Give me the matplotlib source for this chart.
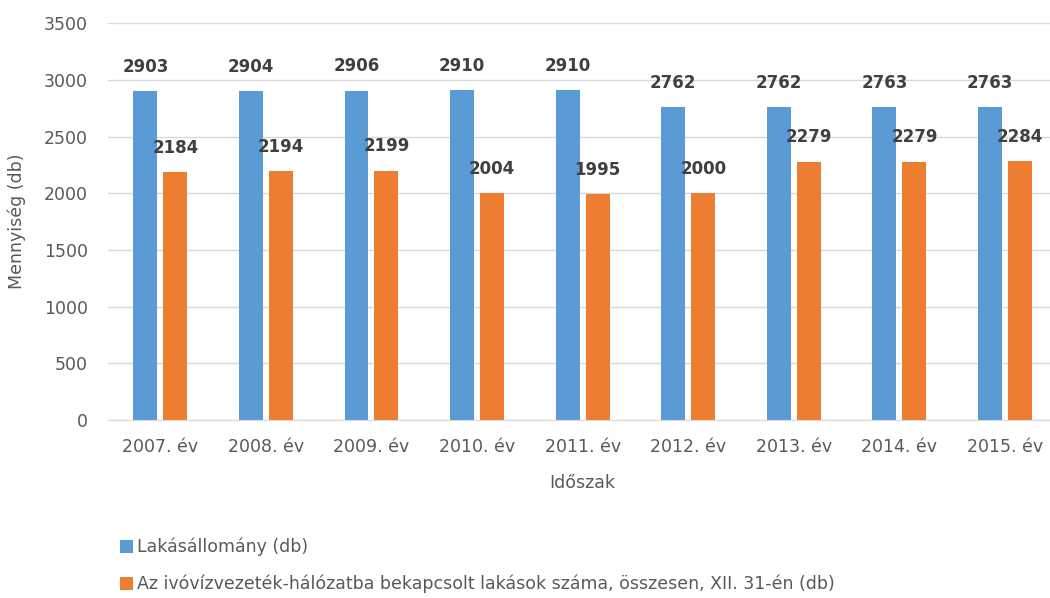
import matplotlib
matplotlib.use('Agg')
import matplotlib.pyplot as plt
import numpy as np

years = ['2007. év', '2008. év', '2009. év', '2010. év', '2011. év',
         '2012. év', '2013. év', '2014. év', '2015. év']
lakasallomany = [2903, 2904, 2906, 2910, 2910, 2762, 2762, 2763, 2763]
bekapcsolt = [2184, 2194, 2199, 2004, 1995, 2000, 2279, 2279, 2284]

series_names = ['Lakásállomány (db)',
                'Az ivóvízvezeték-hálózatba bekapcsolt lakások száma, összesen, XII. 31-én (db)']
colors = ['#5B9BD5', '#ED7D31']
text_gray = '#595959'

plt.rcParams['font.family'] = ['DejaVu Sans']

fig = plt.figure(figsize=(10.5, 5.98), dpi=100)
ax = fig.add_axes([0.1024, 0.298, 0.905, 0.663])

x = np.arange(len(years))
w = 0.227
off = 0.142
b1 = ax.bar(x - off, lakasallomany, w, color=colors[0], label=series_names[0], zorder=2)
b2 = ax.bar(x + off, bekapcsolt, w, color=colors[1], label=series_names[1], zorder=2)

for bars in (b1, b2):
    for bar in bars:
        h = bar.get_height()
        ax.annotate(f'{h:.0f}', (bar.get_x() + bar.get_width() / 2, h),
                    xytext=(0, 11), textcoords='offset points',
                    ha='center', va='bottom', fontsize=12, fontweight='bold',
                    color='#404040')

ax.set_xlim(-0.5, len(years) - 0.5)
ax.set_ylim(0, 3500)
ax.set_yticks(range(0, 3501, 500))
ax.set_xticks(x)
ax.set_xticklabels(years)
ax.tick_params(axis='both', length=0, labelsize=12.5, colors=text_gray)
ax.tick_params(axis='x', pad=13)
ax.tick_params(axis='y', pad=14)
ax.grid(axis='y', color='#d9d9d9', linewidth=1, zorder=0)
for s in ['top', 'right', 'left']:
    ax.spines[s].set_visible(False)
ax.spines['bottom'].set_color('#d9d9d9')

ax.set_ylabel('Mennyiség (db)', fontsize=12.5, color=text_gray, labelpad=13)
ax.set_xlabel('Időszak', fontsize=12.5, color=text_gray, labelpad=13)

fig.legend(loc='upper left', bbox_to_anchor=(0.108, 0.112), frameon=False,
           fontsize=12.5, labelcolor=text_gray, handlelength=0.75, handleheight=0.75,
           handletextpad=0.2, labelspacing=1.05, borderaxespad=0)

fig.savefig('out.png', dpi=100)
